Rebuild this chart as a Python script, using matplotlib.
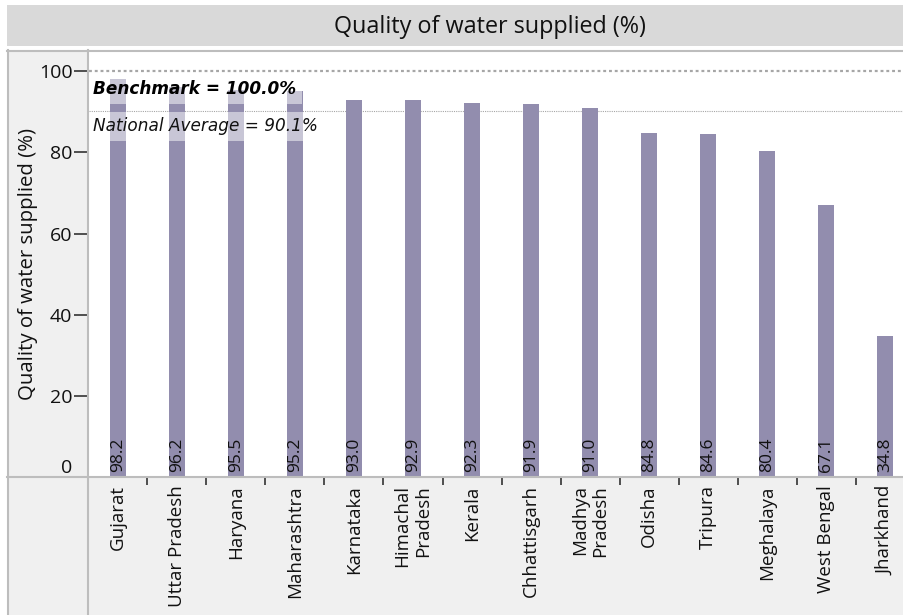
import numpy as np
import matplotlib
matplotlib.use('Agg')
import matplotlib.pyplot as plt
from matplotlib.patches import Rectangle
from matplotlib.lines import Line2D
import matplotlib.transforms as mtrans

plt.rcParams['font.family'] = ['Open Sans', 'DejaVu Sans']

# data
states = ['Gujarat', 'Uttar Pradesh', 'Haryana', 'Maharashtra', 'Karnataka',
          'Himachal\nPradesh', 'Kerala', 'Chhattisgarh', 'Madhya\nPradesh',
          'Odisha', 'Tripura', 'Meghalaya', 'West Bengal', 'Jharkhand']
quality = [98.2, 96.2, 95.5, 95.2, 93.0, 92.9, 92.3, 91.9, 91.0,
           84.8, 84.6, 80.4, 67.1, 34.8]
benchmark = 100.0
national_avg = 90.1
yticks = [0, 20, 40, 60, 80, 100]

W, H = 904, 615
bar_color = '#928dae'
frame_color = '#bdbdbd'

fig = plt.figure(figsize=(W / 100, H / 100), dpi=100)
fig.patch.set_facecolor('white')


def rect(x0, y0, x1, y1, color, z=-5):
    # pixel box (top-left origin) -> figure rectangle
    fig.add_artist(Rectangle((x0 / W, 1 - y1 / H), (x1 - x0) / W, (y1 - y0) / H,
                             transform=fig.transFigure, facecolor=color,
                             edgecolor='none', zorder=z))


def line(x0, y0, x1, y1, color=frame_color, lw=1.5):
    fig.add_artist(Line2D([x0 / W, x1 / W], [1 - y0 / H, 1 - y1 / H],
                          transform=fig.transFigure, color=color, lw=lw, zorder=5))


# title band and side panels
rect(7, 5, W, 46, '#d9d9d9')
rect(7, 51, 88, H, '#f0f0f0')
rect(88, 477, W, H, '#f0f0f0')
line(7, 50.5, W, 50.5)
line(7.5, 50, 7.5, H)
line(88.5, 50, 88.5, H)
line(7, 477, W, 477)

fig.text(490 / W, 1 - 27 / H, 'Quality of water supplied (%)', ha='center',
         va='center', fontsize=16.8, color='#111111')
fig.text(28 / W, 1 - 264 / H, 'Quality of water supplied (%)', ha='center',
         va='center', rotation=90, fontsize=14.7, color='#111111')

ax = fig.add_axes([89 / W, 1 - 477 / H, 815 / W, 426 / H])
ax.set_facecolor('white')
x = np.arange(len(states))
ax.bar(x, quality, width=0.27, color=bar_color, zorder=2)

for xi, v in zip(x, quality):
    ax.text(xi, 1.2, f'{v:.1f}', rotation=90, ha='center', va='bottom',
            fontsize=12.5, color='#111111', zorder=3)

# reference lines
ax.axhline(benchmark, color='#a6a6a6', lw=1.6, linestyle=(0, (1.3, 1.3)), zorder=1)
ax.axhline(national_avg, color='#a6a6a6', lw=0.8, linestyle=(0, (1, 1)), zorder=1)

tr = mtrans.blended_transform_factory(ax.transAxes, ax.transData)
box = dict(facecolor='white', alpha=0.5, edgecolor='none', boxstyle='square,pad=0.35')
ax.text(0.005, 95.6, 'Benchmark = 100.0%', transform=tr, ha='left', va='center',
        fontsize=12.2, fontweight='bold', fontstyle='italic', color='black',
        family='DejaVu Sans', bbox=box, zorder=4)
ax.text(0.005, 86.4, 'National Average = 90.1%', transform=tr, ha='left', va='center',
        fontsize=12.2, fontstyle='italic', color='#111111',
        family='DejaVu Sans', bbox=box, zorder=4)

ax.set_xlim(-0.49, 13.32)
ax.set_ylim(0, 105)
for s in ax.spines.values():
    s.set_visible(False)

ax.set_yticks(yticks)
ax.set_yticklabels([str(t) for t in yticks])
ax.tick_params(axis='y', length=11, width=1.2, color='#333333', labelsize=14,
               labelcolor='#111111', pad=1)
ax.yaxis.get_major_ticks()[0].label1.set_va('bottom')
ax.yaxis.get_major_ticks()[0].tick1line.set_visible(False)

ax.set_xticks(x)
ax.set_xticklabels(states, rotation=90, ha='center', va='top',
                   multialignment='right', fontsize=13.5, color='#111111')
ax.tick_params(axis='x', which='major', length=0, pad=6)
ax.set_xticks(x[:-1] + 0.5, minor=True)
ax.tick_params(axis='x', which='minor', length=6, width=1.2, color='#333333')

fig.savefig('out.png', dpi=100)
